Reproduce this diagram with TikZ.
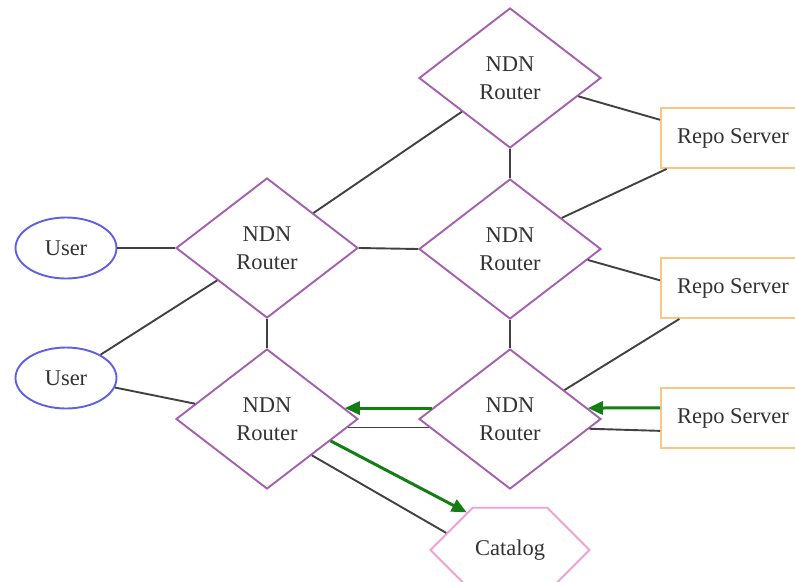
\documentclass[tikz,border=0pt]{standalone}
\usepackage{fontspec}
\setmainfont{Liberation Serif}
\newfontfamily\labelfont{Liberation Serif}
\usetikzlibrary{shapes.geometric,shapes.misc,arrows.meta}

\definecolor{routerc}{RGB}{165,95,175}
\definecolor{userc}{RGB}{95,95,225}
\definecolor{repoc}{RGB}{248,200,130}
\definecolor{catc}{RGB}{240,160,210}
\definecolor{linkc}{RGB}{65,65,65}
\definecolor{flowc}{RGB}{20,125,20}
\definecolor{txtc}{RGB}{50,50,50}

\tikzset{
  x=1pt, y=-1pt,
  base/.style={font=\labelfont\fontsize{22.5}{28}\selectfont, text=txtc, align=center, inner sep=0pt},
  router/.style={base, diamond, draw=routerc, line width=1.9pt, minimum width=182pt, minimum height=140pt},
  user/.style={base, ellipse, draw=userc, line width=1.9pt, minimum width=101pt, minimum height=61pt},
  repo/.style={base, rectangle, draw=repoc, line width=1.9pt, minimum width=144pt, minimum height=60pt},
  catalog/.style={base, chamfered rectangle, chamfered rectangle xsep=39pt, chamfered rectangle ysep=32pt,
                  draw=catc, line width=1.9pt, minimum width=159pt, minimum height=64pt},
  link/.style={draw=linkc, line width=1.9pt},
  flow/.style={draw=flowc, line width=3pt, -{Triangle[length=15pt,width=13pt]}},
}

\begin{document}
\begin{tikzpicture}
  \useasboundingbox (0,0) rectangle (795,581);
  \clip (0,0) rectangle (795,581);

  % routers
  \node[router] (r1) at (510,78)  {NDN\\Router};
  \node[router] (r2) at (267,248) {NDN\\Router};
  \node[router] (r3) at (510,249) {NDN\\Router};
  \node[router] (r4) at (267,419) {NDN\\Router};
  \node[router] (r5) at (510,419) {NDN\\Router};

  % end hosts
  \node[user] (u1) at (66,248) {User};
  \node[user] (u2) at (66,378) {User};

  \node[repo] (s1) at (733,138) {Repo Server};
  \node[repo] (s2) at (733,288) {Repo Server};
  \node[repo] (s3) at (733,418) {Repo Server};

  \node[catalog] (cat) at (510,550) {Catalog};

  % links
  \draw[link] (u1.east) -- (r2.west);
  \draw[link] (u2.34) -- (r2.213);
  \draw[link] (u2.-11) -- (r4.168);
  \draw[link] (r2.south) -- (r4.north);
  \draw[link] (r2.east) -- (r3.west);
  \draw[link] (r2.37) -- (r1.215);
  \draw[link] (r1.south) -- (r3.north);
  \draw[link] (r1.-15) -- (s1.166);
  \draw[link] (r3.31) -- (s1.205);
  \draw[link] (r3.-8) -- (s2.174);
  \draw[link] (r3.south) -- (r5.north);
  \draw[link] (r5.28) -- (s2.210);
  \draw[link] (r5.-7) -- (s3.190);
  \draw[link] (r4.-6) -- (r5.186);
  \draw[link] (r4.-39) -- (cat.165);

  % data flow
  \draw[flow] (s3.172) -- (r5.8);
  \draw[flow] (r5.172) -- (r4.8);
  \draw[flow] (r4.-19) -- (cat.139);
\end{tikzpicture}
\end{document}
